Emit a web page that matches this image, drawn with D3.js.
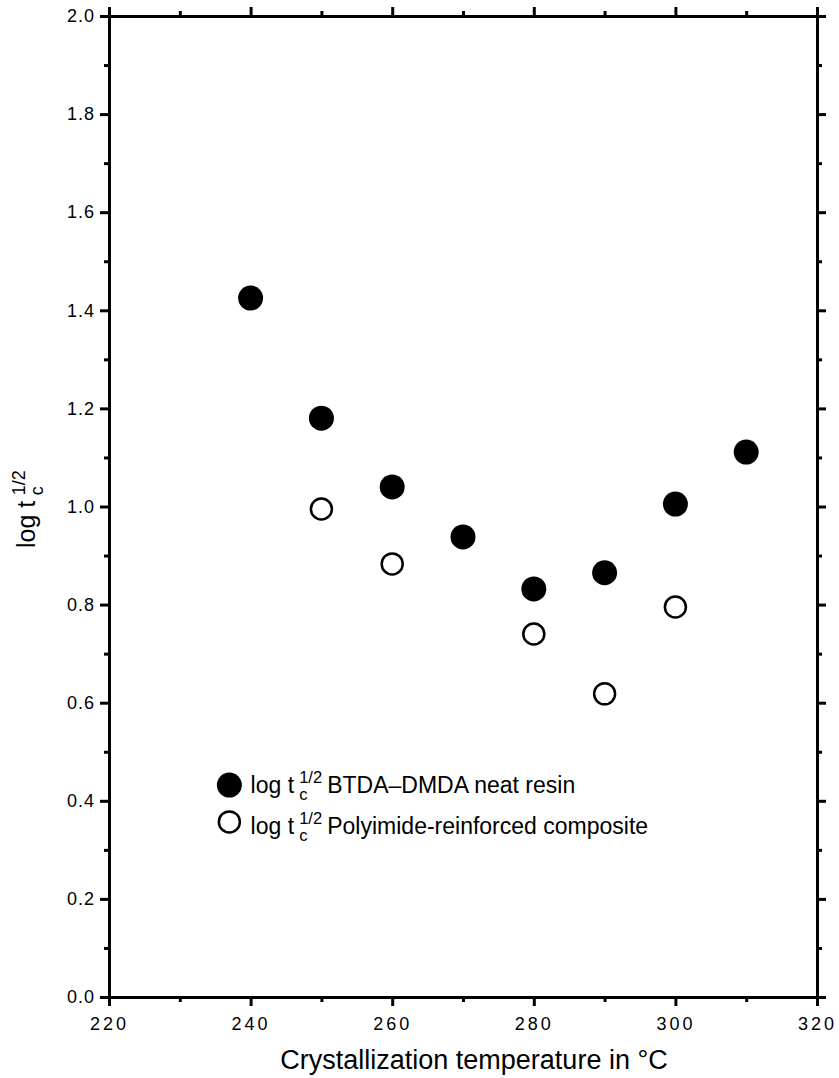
<!DOCTYPE html>
<html>
<head>
<meta charset="utf-8">
<script src="https://cdn.jsdelivr.net/npm/d3@7"></script>
<style>
  body { margin: 0; background: #fff; }
  svg { font-family: "Liberation Sans", Arial, Helvetica, sans-serif; }
  .axis path, .axis line { stroke: #000; stroke-width: 3; }
  .axis text { fill: #000; }
</style>
</head>
<body>
<div id="chart"></div>
<script>
// data
var neatTemps = [240, 250, 260, 270, 280, 290, 300, 310];
var neatLogT = [1.425, 1.18, 1.04, 0.938, 0.832, 0.865, 1.005, 1.111];
var compTemps = [250, 260, 280, 290, 300];
var compLogT = [0.995, 0.883, 0.74, 0.618, 0.795];

var xMajorTicks = [220, 240, 260, 280, 300, 320];
var xMinorTicks = [230, 250, 270, 290, 310];
var yMajorTicks = [0.0, 0.2, 0.4, 0.6, 0.8, 1.0, 1.2, 1.4, 1.6, 1.8, 2.0];
var yMinorTicks = [0.1, 0.3, 0.5, 0.7, 0.9, 1.1, 1.3, 1.5, 1.7, 1.9];

var legendNames = ["BTDA\u2013DMDA neat resin", "Polyimide-reinforced composite"];

var svgWidth = 839;
var svgHeight = 1078;
var margin = {top: 16, right: 22, bottom: 81, left: 109};
var chartWidth = svgWidth - margin.left - margin.right;
var chartHeight = svgHeight - margin.top - margin.bottom;

var svg = d3.select("#chart")
    .append("svg")
    .attr("width", svgWidth)
    .attr("height", svgHeight);

var chartGroup = svg.append("g")
    .attr("transform", `translate(${margin.left}, ${margin.top})`);

var x = d3.scaleLinear().domain([220, 320]).range([0, chartWidth]);
var y = d3.scaleLinear().domain([0, 2]).range([chartHeight, 0]);

// axes: major ticks labelled on left/bottom, minor ticks shorter
function addAxis(axisFn, scale, values, size, transform, labels) {
    var ax = axisFn(scale).tickValues(values).tickSizeInner(size).tickSizeOuter(0);
    if (!labels) ax.tickFormat("");
    var g = chartGroup.append("g")
        .attr("class", "axis")
        .attr("transform", transform)
        .call(ax);
    g.select(".domain").attr("stroke-linecap", "square");
    return g;
}

var bottomAxis = addAxis(d3.axisBottom, x, xMajorTicks, 9, `translate(0, ${chartHeight})`, true);
addAxis(d3.axisBottom, x, xMinorTicks, 5, `translate(0, ${chartHeight})`, false);
addAxis(d3.axisTop, x, xMajorTicks, 9, "translate(0, 0)", false);
addAxis(d3.axisTop, x, xMinorTicks, 5, "translate(0, 0)", false);

var leftAxis = addAxis(d3.axisLeft, y, yMajorTicks, 9, "translate(0, 0)", true);
addAxis(d3.axisLeft, y, yMinorTicks, 5, "translate(0, 0)", false);
addAxis(d3.axisRight, y, yMajorTicks, 9, `translate(${chartWidth}, 0)`, false);
addAxis(d3.axisRight, y, yMinorTicks, 5, `translate(${chartWidth}, 0)`, false);

bottomAxis.selectAll("text")
    .attr("font-size", 18)
    .attr("font-family", "inherit")
    .attr("letter-spacing", "3px")
    .attr("y", 20);

leftAxis.selectAll("text")
    .text(d => d3.format(".1f")(d))
    .attr("font-size", 18)
    .attr("font-family", "inherit")
    .attr("letter-spacing", "1px")
    .attr("x", -14);

// points
chartGroup.selectAll(".neat")
    .data(neatTemps)
    .enter()
    .append("circle")
    .attr("class", "neat")
    .attr("cx", d => x(d))
    .attr("cy", (d, i) => y(neatLogT[i]))
    .attr("r", 12.5)
    .attr("fill", "#000");

chartGroup.selectAll(".comp")
    .data(compTemps)
    .enter()
    .append("circle")
    .attr("class", "comp")
    .attr("cx", d => x(d))
    .attr("cy", (d, i) => y(compLogT[i]))
    .attr("r", 10.5)
    .attr("fill", "#fff")
    .attr("stroke", "#000")
    .attr("stroke-width", 2.5);

// "log t" with stacked subscript c and superscript 1/2, then rest of label
function logT(g, x0, y0, size, rest) {
    var main = g.append("text").attr("x", x0).attr("y", y0)
        .attr("font-size", size).text("log t");
    var w = main.node().getComputedTextLength() + size * 0.22;
    var small = size * 0.72;
    g.append("text").attr("x", x0 + w).attr("y", y0 + size * 0.32)
        .attr("font-size", small).text("c");
    var sup = g.append("text").attr("x", x0 + w).attr("y", y0 - size * 0.42)
        .attr("font-size", small).text("1/2");
    var w2 = sup.node().getComputedTextLength();
    if (rest) {
        g.append("text").attr("x", x0 + w + w2 + size * 0.22).attr("y", y0)
            .attr("font-size", size).text(rest);
    }
}

// legend
var legend = chartGroup.append("g");
legend.append("circle").attr("cx", x(237)).attr("cy", y(0.432)).attr("r", 12.5).attr("fill", "#000");
legend.append("circle").attr("cx", x(237)).attr("cy", y(0.357)).attr("r", 10.5)
    .attr("fill", "#fff").attr("stroke", "#000").attr("stroke-width", 2.5);
logT(legend.append("g"), x(240), y(0.432) + 8, 23, legendNames[0]);
logT(legend.append("g"), x(240), y(0.357) + 12, 23, legendNames[1]);

// axis titles
svg.append("text")
    .attr("x", 474)
    .attr("y", svgHeight - 9)
    .attr("text-anchor", "middle")
    .attr("font-size", 27)
    .text("Crystallization temperature in \u00B0C");

var yTitle = svg.append("g")
    .attr("transform", "translate(35, 548) rotate(-90)");
logT(yTitle, 0, 0, 25, null);
</script>
</body>
</html>
